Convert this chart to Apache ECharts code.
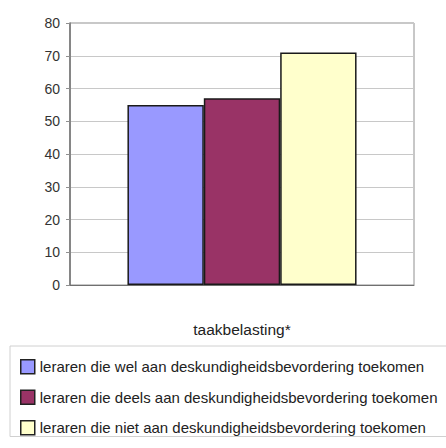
<!DOCTYPE html>
<html><head><meta charset="utf-8">
<script src="https://cdn.jsdelivr.net/npm/echarts@6/dist/echarts.min.js"></script>
<style>html,body{margin:0;padding:0;background:#fff;overflow:hidden}#c{width:446px;height:448px}</style>
</head><body><div id="c"></div>
<script>
const categories = ['taakbelasting*'];
const seriesNames = [
  'leraren die wel aan deskundigheidsbevordering toekomen',
  'leraren die deels aan deskundigheidsbevordering toekomen',
  'leraren die niet aan deskundigheidsbevordering toekomen'
];
const wel = [55];
const deels = [57];
const niet = [71];
const colors = ['#9999FF', '#993366', '#FFFFCC'];
const values = [wel, deels, niet];

const chart = echarts.init(document.getElementById('c'), null, {renderer: 'svg'});
chart.setOption({
  animation: false,
  tooltip: {show: false},
  textStyle: {fontFamily: 'Liberation Sans, Arial, sans-serif'},
  grid: {left: 70, top: 23, width: 344, height: 262, show: true, borderColor: '#909090', borderWidth: 1, containLabel: false},
  xAxis: {
    type: 'category', data: categories, silent: true,
    axisLabel: {show: false}, axisTick: {show: false},
    axisLine: {lineStyle: {color: '#707070', width: 1}},
    name: 'taakbelasting*', nameLocation: 'middle', nameGap: 36,
    nameTextStyle: {fontSize: 15.5, color: '#222'}
  },
  yAxis: {
    type: 'value', min: 0, max: 80, interval: 10, silent: true,
    axisLine: {show: true, lineStyle: {color: '#707070', width: 1.5}},
    axisTick: {show: true, length: 4, lineStyle: {color: '#909090'}},
    axisLabel: {fontSize: 14, color: '#333', margin: 10},
    splitLine: {lineStyle: {color: '#c8c8c8', width: 1}}
  },
  legend: {
    orient: 'vertical', left: 10, top: 346, selectedMode: false,
    itemWidth: 14, itemHeight: 14, itemGap: 15,
    padding: [13, 40, 1, 10],
    borderColor: '#d0d0d0', borderWidth: 1,
    textStyle: {fontSize: 15, color: '#222'},
    data: seriesNames.map((n, i) => ({name: n, icon: 'rect', itemStyle: {color: colors[i], borderColor: '#222', borderWidth: 1.5}}))
  },
  series: seriesNames.map((n, i) => ({
    name: n, type: 'bar', data: values[i],
    silent: true, legendHoverLink: false, emphasis: {disabled: true},
    barGap: '0%', barCategoryGap: '33.4%',
    itemStyle: {color: colors[i], borderColor: '#1a1a1a', borderWidth: 1.5}
  }))
});
</script></body></html>
